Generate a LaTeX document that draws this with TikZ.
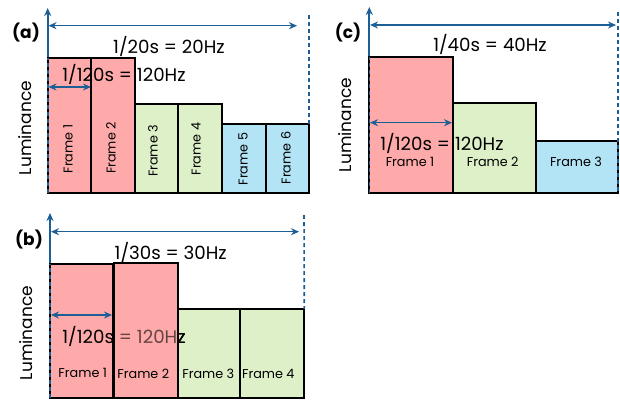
\documentclass[tikz,border=0pt]{standalone}
\usepackage{fontspec}
\setmainfont{Poppins}
\usetikzlibrary{arrows.meta}
\definecolor{pinkf}{RGB}{255,170,170}
\definecolor{greenf}{RGB}{221,240,200}
\definecolor{bluef}{RGB}{178,228,245}
\definecolor{axisblue}{RGB}{28,94,150}
\tikzset{
  frm/.style={draw=black, line width=2pt, inner sep=0pt, outer sep=0pt, anchor=south west},
  axisline/.style={draw=axisblue, line width=2pt, -{Stealth[length=8pt,width=7pt]}},
  edgedash/.style={draw=axisblue, line width=1.6pt, dash pattern=on 4pt off 3pt},
  span/.style={draw=axisblue, line width=1.5pt, {Stealth[length=8pt,width=7pt]}-{Stealth[length=8pt,width=7pt]}},
  big/.style={font=\fontsize{18.2}{20}\selectfont, inner sep=0pt},
  lum/.style={font=\fontsize{17}{19}\selectfont, inner sep=0pt},
  small/.style={font=\fontsize{12.8}{14}\selectfont, inner sep=0pt},
  tag/.style={font=\fontsize{17}{19}\selectfont\bfseries, inner sep=0pt},
}
\begin{document}
\begin{tikzpicture}[x=1pt, y=-1pt]
\useasboundingbox (0,0) rectangle (620,400);

% ---------------- panel (a): 20 Hz ----------------
\coordinate (ao) at (47.7,193);
\coordinate (atop) at (47.7,8);
\draw[axisline] (ao) -- (atop);
\node[frm, fill=pinkf, minimum width=43.3pt, minimum height=135pt] (a1) at (47.7,193) {};
\node[frm, fill=pinkf, minimum width=44pt, minimum height=135pt] (a2) at (91,193) {};
\node[frm, fill=greenf, minimum width=43pt, minimum height=89pt] (a3) at (135,193) {};
\node[frm, fill=greenf, minimum width=44pt, minimum height=89pt] (a4) at (178,193) {};
\node[frm, fill=bluef, minimum width=44pt, minimum height=69pt] (a5) at (222,193) {};
\node[frm, fill=bluef, minimum width=43pt, minimum height=69pt] (a6) at (266,193) {};
\draw[edgedash] (a1.south west) -- (a1.north west);
\coordinate (aend) at (309,15);
\draw[edgedash] (aend) -- (a6.north east);
\coordinate (ah1) at (48.5,25.7);
\coordinate (ah2) at (297,25.7);
\draw[span] (ah1) -- (ah2);
\node[big] (at1) at (169,46.5) {1/20s = 20Hz};
\node[big] (at2) at (124,74.5) {1/120s = 120Hz};
\draw[black, line width=2pt] (a2.north west) -- (a2.south west);
\coordinate (as1) at (48.5,87);
\coordinate (as2) at (91,87);
\draw[span] (as1) -- (as2);
\node[small, rotate=90] (af1) at (68,149) {Frame 1};
\node[small, rotate=90] (af2) at (111,148) {Frame 2};
\node[small, rotate=90] (af3) at (153,151) {Frame 3};
\node[small, rotate=90] (af4) at (196,149) {Frame 4};
\node[small, rotate=90] (af5) at (243,159) {Frame 5};
\node[small, rotate=90] (af6) at (286,158) {Frame 6};
\node[tag] (alab) at (26,33) {(a)};
\node[lum, rotate=90] (alum) at (25,128) {Luminance};

% ---------------- panel (b): 30 Hz ----------------
\coordinate (bo) at (50,398);
\coordinate (btop) at (50,213);
\draw[axisline] (bo) -- (btop);
\node[frm, fill=pinkf, minimum width=62.7pt, minimum height=134pt] (b1) at (50,398) {};
\draw[edgedash] (b1.south west) -- (b1.north west);
\node[frm, fill=greenf, minimum width=62.3pt, minimum height=89pt] (b3) at (177.7,398) {};
\node[frm, fill=greenf, minimum width=64.3pt, minimum height=89pt] (b4) at (240,398) {};
\node[frm, draw=none, fill=pinkf, minimum width=63.7pt, minimum height=135.5pt] (b2) at (114,398) {};
\node[big] (bt2) at (124,336.5) {1/120s = 120Hz};
% frame 2 is laid over the caption, which shows through it tinted
\fill[pinkf, fill opacity=0.4] (b2.south west) rectangle (b2.north east);
\begin{scope}
  \clip (b2.south east) rectangle (b3.north east);
  \node[big] (bt2r) at (124,336.5) {1/120s = 120Hz};
\end{scope}
\draw[black, line width=2pt] (b2.south west) rectangle (b2.north east);
\coordinate (bend) at (304,215);
\draw[edgedash] (bend) -- (b4.north east);
\coordinate (bh1) at (51,231.7);
\coordinate (bh2) at (299,231.7);
\draw[span] (bh1) -- (bh2);
\node[big] (bt1) at (170.7,252.5) {1/30s = 30Hz};
\coordinate (bs1) at (51,315);
\coordinate (bs2) at (112,315);
\draw[span] (bs1) -- (bs2);
\node[small] (bf1) at (82.7,372.7) {Frame 1};
\node[small] (bf2) at (143.3,374) {Frame 2};
\node[small] (bf3) at (208.3,374) {Frame 3};
\node[small] (bf4) at (268.3,374) {Frame 4};
\node[tag] (blab) at (29,240) {(b)};
\node[lum, rotate=90] (blum) at (26,333) {Luminance};

% ---------------- panel (c): 40 Hz ----------------
\coordinate (co) at (369.3,193);
\coordinate (ctop) at (369.3,7);
\draw[axisline] (co) -- (ctop);
\node[frm, fill=pinkf, minimum width=83.4pt, minimum height=135.7pt] (c1) at (369.3,193) {};
\node[frm, fill=greenf, minimum width=83pt, minimum height=89.7pt] (c2) at (452.7,193) {};
\node[frm, fill=bluef, minimum width=82pt, minimum height=52pt] (c3) at (535.7,193) {};
\draw[edgedash] (c1.south west) -- (c1.north west);
\coordinate (cend) at (617.7,12);
\draw[edgedash] (cend) -- (c3.south east);
\coordinate (ch1) at (370,25);
\coordinate (ch2) at (616,25);
\draw[span] (ch1) -- (ch2);
\node[big] (ct1) at (490,44.5) {1/40s = 40Hz};
\coordinate (cs1) at (370,122.7);
\coordinate (cs2) at (452,122.7);
\draw[span] (cs1) -- (cs2);
\node[big] (ct2) at (442,143) {1/120s = 120Hz};
\node[small] (cf1) at (410,161.7) {Frame 1};
\node[small] (cf2) at (492.7,161.7) {Frame 2};
\node[small] (cf3) at (576,161.7) {Frame 3};
\node[tag] (clab) at (348,33) {(c)};
\node[lum, rotate=90] (clum) at (345,125) {Luminance};
\end{tikzpicture}
\end{document}
